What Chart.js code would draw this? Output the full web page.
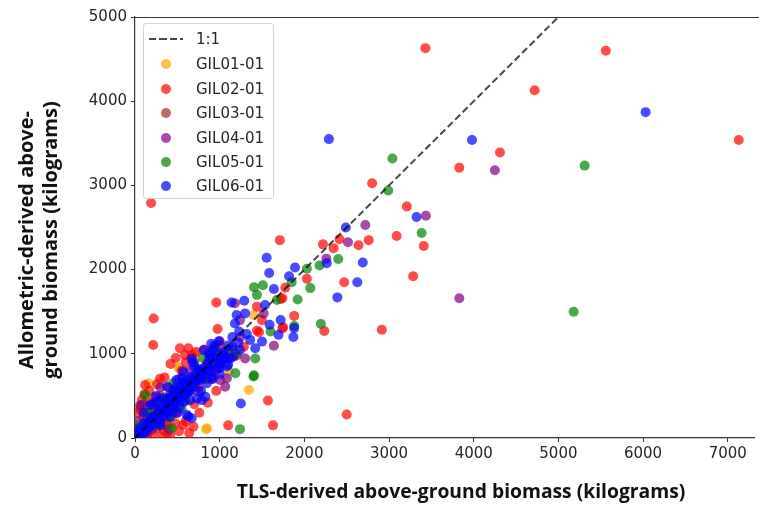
<!DOCTYPE html>
<html><head><meta charset="utf-8">
<script src="https://cdn.jsdelivr.net/npm/chart.js@4.4.0/dist/chart.umd.min.js"></script>
<style>
html,body{margin:0;padding:0;background:#fff;}
#wrap{position:relative;width:759px;height:510px;}
#legend{position:absolute;left:143px;top:23px;width:129px;height:174px;border:1px solid #d4d4d4;border-radius:3px;background:rgba(255,255,255,0.85);font-family:"DejaVu Sans";font-size:15px;color:#262626;}
.item{position:absolute;left:0;width:129px;height:20px;}
.item span{position:absolute;left:52px;top:0;line-height:20px;white-space:nowrap;}
.mk{position:absolute;left:17px;top:5px;width:10px;height:10px;border-radius:50%;}
.dash{position:absolute;left:5px;top:9px;width:34px;height:2px;background:repeating-linear-gradient(to right,rgba(0,0,0,0.72) 0 7px,transparent 7px 10.5px);}
</style></head><body>
<div id="wrap"><canvas id="c" width="759" height="510"></canvas><div id="legend"></div></div>
<script>
const seriesNames = ['GIL01-01','GIL02-01','GIL03-01','GIL04-01','GIL05-01','GIL06-01'];
const seriesColors = ['rgba(255,165,0,0.7)','rgba(255,0,0,0.7)','rgba(165,42,42,0.7)','rgba(128,0,128,0.7)','rgba(0,128,0,0.7)','rgba(0,0,255,0.7)'];
const lineLabel = '1:1';
const xTitle = 'TLS-derived above-ground biomass (kilograms)';
const yTitle = ['Allometric-derived above-','ground biomass (kilograms)'];
const xTicks = [0,1000,2000,3000,4000,5000,6000,7000];
const yTicks = [0,1000,2000,3000,4000,5000];
const oneToOne = [[0,0],[8000,8000]];

const gil01 = [[160,650],[515,830],[525,840],[850,115],[840,105],[1345,570],[1105,800],[1400,1460],[90,120],[250,300],[380,420],[600,640],[720,760],[300,200],[700,1000]];
const gil02 = [[3430,4630],[5560,4600],[4720,4130],[7130,3540],[4310,3390],[3830,3210],[2800,3025],[3210,2750],[3090,2400],[2760,2350],[1710,2350],[2415,2360],[2640,2290],[2220,2300],[2345,2255],[3410,2280],[2030,1890],[1775,1785],[2470,1850],[3285,1920],[1880,1450],[1720,1650],[1750,1315],[2235,1270],[2915,1285],[2500,280],[1570,445],[1100,150],[1630,150],[690,135],[295,705],[120,630],[190,2790],[220,1420],[215,1105],[530,1065],[630,1065],[590,985],[960,1610],[975,1295],[1440,1560],[1740,1660],[1740,1300],[1440,1275],[1500,1400],[1285,1085],[1465,1255],[890,1005],[80,450],[20,115],[490,295],[475,175],[570,155],[415,35],[335,95],[255,115],[355,175],[200,300],[650,700],[750,600],[850,900],[400,600],[300,500],[550,800],[700,400],[950,800],[600,200],[100,250],[150,50],[50,10],[800,700],[450,520],[1000,1100],[1150,1050],[670,980],[1060,960],[180,420],[380,150],[60,340],[900,700],[1200,980],[40,300],[70,380],[110,520],[170,560],[230,480],[260,640],[350,720],[420,880],[480,950],[600,900],[720,1020],[820,1050],[380,60],[520,80],[640,60],[300,20],[200,60],[760,300],[860,420],[960,560]];
const gil03 = [[60,80],[120,200],[180,150],[250,330],[320,260],[400,470],[150,300],[520,480],[90,40],[280,420],[700,620],[460,380]];
const gil04 = [[4250,3180],[3435,2640],[2720,2530],[2515,2325],[2260,2130],[3830,1660],[1640,1095],[1180,1600],[1300,945],[1240,1400],[1520,1480],[985,830],[1005,690],[1065,610],[1085,710],[60,390],[375,250],[20,200],[1245,1200],[150,180],[250,420],[450,300],[600,520],[800,760],[700,900],[350,450],[900,1000],[520,700],[100,400],[300,600],[500,550],[650,800],[750,550],[1000,1150],[1100,950],[200,100],[400,100]];
const gil05 = [[3040,3320],[5310,3235],[2990,2940],[3385,2435],[2400,2125],[2030,2010],[2180,2050],[1850,1850],[2070,1780],[1920,1645],[5180,1500],[2195,1355],[1880,1330],[1405,1790],[1510,1815],[1440,1700],[1675,1640],[1400,730],[1420,945],[1600,1265],[920,1055],[1185,770],[1405,745],[1240,105],[945,1065],[590,670],[120,510],[435,115],[200,150],[300,380],[500,420],[650,560],[750,820],[850,700],[400,250],[100,60],[550,350],[1000,900],[800,950],[150,300],[250,150],[350,480],[450,650],[600,450],[700,650],[900,880],[1100,1050],[1200,1000],[50,150]];
const gil06 = [[6030,3870],[3980,3540],[2290,3550],[3325,2625],[2490,2500],[2690,2085],[2265,2075],[1890,2025],[1820,1920],[2625,1850],[2390,1670],[1555,2140],[1585,1960],[1640,1770],[1720,1400],[1880,1305],[1870,1200],[1140,1610],[1290,1630],[1535,1580],[1695,1225],[1590,1345],[1180,1360],[1230,1265],[1320,1235],[1500,1145],[1420,1065],[1160,965],[1045,1025],[925,1045],[810,1045],[1005,925],[1240,1045],[1360,1165],[1200,1460],[1300,1480],[1250,410],[630,255],[830,490],[670,945],[890,945],[1125,945],[570,790],[770,810],[885,810],[1005,870],[1085,850],[670,730],[770,690],[905,730],[490,690],[375,610],[455,570],[570,570],[630,590],[730,470],[790,450],[415,510],[315,470],[180,390],[255,430],[375,390],[335,310],[215,250],[160,155],[100,95],[60,55],[530,370],[455,390],[295,175],[670,235],[610,275],[20,30],[40,20],[80,70],[120,110],[140,160],[180,200],[200,180],[230,260],[250,220],[270,300],[300,280],[320,350],[350,330],[380,400],[400,380],[420,450],[450,430],[480,500],[500,470],[520,560],[550,520],[580,600],[600,560],[640,650],[660,620],[700,720],[720,690],[760,760],[780,740],[820,840],[860,880],[900,860],[950,960],[980,1000],[1020,980],[150,120],[190,240],[240,200],[280,330],[330,300],[360,420],[410,360],[440,480],[470,420],[510,530],[540,600],[560,500],[620,690],[680,600],[740,800],[800,770],[850,820],[880,950],[30,80],[60,120],[90,40],[110,180],[130,70],[170,130],[210,150],[260,190],[290,220],[340,260],[370,300],[390,470],[460,540],[530,460],[590,650],[650,560],[710,650],[750,700],[820,750],[900,800],[960,900],[1050,1000],[1100,1100],[990,1150],[940,1100],[870,1000],[700,850],[560,650],[480,600],[430,330],[580,430],[620,540],[920,700],[1000,830],[1050,950],[1100,870],[1150,1200],[1220,1130],[100,300],[200,400],[300,150],[420,250],[250,500],[500,300],[650,450],[560,720],[780,560],[850,650],[900,1120],[1000,760],[1150,1080],[680,900]];
const seriesData = [gil01,gil02,gil03,gil04,gil05,gil06];

const toPts = a => a.map(([x,y]) => ({x, y}));
const datasets = [{
  type:'line', label:lineLabel, data:toPts(oneToOne), borderColor:'rgba(0,0,0,0.72)', borderWidth:2,
  borderDash:[7,3.5], pointRadius:0, fill:false, order:-1
}].concat(seriesNames.map((n,i) => ({
  type:'scatter', label:n, data:toPts(seriesData[i]), backgroundColor:seriesColors[i],
  borderWidth:0, pointRadius:5, pointHoverRadius:5, order:6-i
})));

const frame = {
  id:'frame',
  afterDraw(chart){
    const {ctx, chartArea:a} = chart;
    ctx.save();
    ctx.strokeStyle = '#333'; ctx.lineWidth = 1.2;
    ctx.beginPath(); ctx.moveTo(a.left, a.top+0.5); ctx.lineTo(chart.width, a.top+0.5); ctx.stroke();
    ctx.fillStyle = '#111';
    ctx.textAlign = 'center'; ctx.textBaseline = 'middle';
    ctx.font = 'bold 19.3px "Open Sans"';
    ctx.fillText(xTitle, 461, 493);
    ctx.font = 'bold 20px "Open Sans"';
    ctx.translate(0, 240);
    ctx.rotate(-Math.PI/2);
    ctx.fillText(yTitle[0], 0, 27);
    ctx.fillText(yTitle[1], 0, 51);
    ctx.restore();
  }
};

const tickFont = {family:'DejaVu Sans', size:15};
new Chart(document.getElementById('c'), {
  data:{datasets},
  options:{
    responsive:false, animation:false, devicePixelRatio:1,
    layout:{padding:{left:0,top:17,right:0,bottom:0}},
    plugins:{legend:{display:false}, tooltip:{enabled:false}},
    scales:{
      x:{type:'linear', min:0, max:7310,
        afterFit(s){ s.height = 72; },
        afterBuildTicks(s){ s.ticks = xTicks.map(v => ({value:v})); },
        ticks:{font:tickFont, color:'#262626', padding:3, maxRotation:0, autoSkip:false, callback:v => String(v)},
        grid:{display:true, drawOnChartArea:false, drawTicks:true, tickLength:4, color:'#333'},
        border:{display:true, color:'#333', width:1.2}},
      y:{type:'linear', min:0, max:5000,
        afterFit(s){ s.width = 135; },
        afterBuildTicks(s){ s.ticks = yTicks.map(v => ({value:v})); },
        ticks:{font:tickFont, color:'#262626', padding:4, autoSkip:false, callback:v => String(v)},
        grid:{display:true, drawOnChartArea:false, drawTicks:true, tickLength:4, color:'#333'},
        border:{display:true, color:'#333', width:1.2}}
    }
  },
  plugins:[frame]
});

const lg = document.getElementById('legend');
const rows = [15,40,65,89,114,138,162];
const addRow = (i, label, inner) => {
  const d = document.createElement('div'); d.className = 'item'; d.style.top = (rows[i]-10)+'px';
  d.innerHTML = inner; const s = document.createElement('span'); s.textContent = label; d.appendChild(s); lg.appendChild(d);
};
addRow(0, lineLabel, '<div class="dash"></div>');
seriesNames.forEach((n,i) => addRow(i+1, n, '<div class="mk" style="background:'+seriesColors[i]+'"></div>'));
</script>
</body></html>
